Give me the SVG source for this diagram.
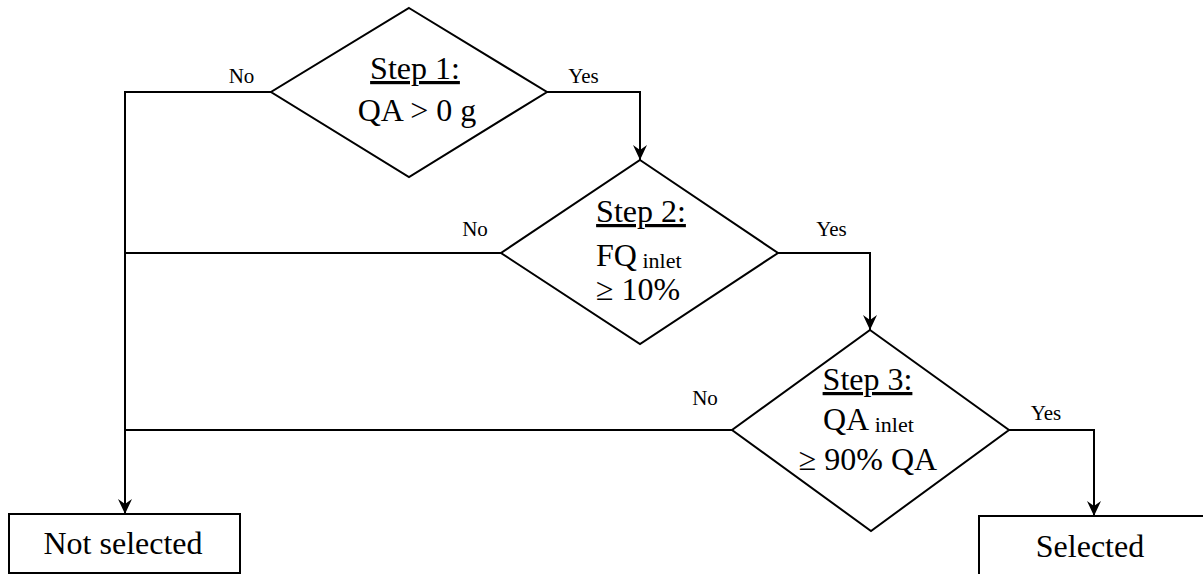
<svg xmlns="http://www.w3.org/2000/svg" width="1203" height="574" viewBox="0 0 1203 574">
<style>
.shape{fill:#fff;stroke:#000;stroke-width:2}
.conn{fill:none;stroke:#000;stroke-width:2}
text{font-family:"Liberation Serif","Times New Roman",serif;fill:#000}
.main{font-size:32px}
.lbl{font-size:21px}
.sub{font-size:22px}
.u{text-decoration:underline}
</style>
<defs>
<marker id="arr" viewBox="0 0 15 14" refX="15" refY="7" markerWidth="15" markerHeight="14" markerUnits="userSpaceOnUse" orient="auto">
<path d="M0,0 L15,7 L0,14 L5,7 Z" fill="#000"/>
</marker>
</defs>
<rect width="1203" height="574" fill="#fff"/>
<g id="connectors">
<path class="conn" d="M547,92 H640 V160" marker-end="url(#arr)"/>
<path class="conn" d="M271,92 H125 V514" marker-end="url(#arr)"/>
<path class="conn" d="M501,253 H125"/>
<path class="conn" d="M778,253 H870 V330" marker-end="url(#arr)"/>
<path class="conn" d="M732,430 H125"/>
<path class="conn" d="M1009,430 H1094 V516" marker-end="url(#arr)"/>
<text class="lbl" x="241.5" y="83" text-anchor="middle">No</text>
<text class="lbl" x="583.5" y="83" text-anchor="middle">Yes</text>
<text class="lbl" x="475" y="236" text-anchor="middle">No</text>
<text class="lbl" x="831.5" y="236" text-anchor="middle">Yes</text>
<text class="lbl" x="705" y="405" text-anchor="middle">No</text>
<text class="lbl" x="1046" y="420" text-anchor="middle">Yes</text>
</g>
<g id="step1">
<polygon class="shape" points="409,8 547,92 409,177 271,92"/>
<text class="main u" x="415" y="79" text-anchor="middle">Step 1:</text>
<text class="main" x="417" y="121" text-anchor="middle">QA &gt; 0 g</text>
</g>
<g id="step2">
<polygon class="shape" points="640,160 778,253 640,344 501,253"/>
<text class="main u" x="641" y="222" text-anchor="middle">Step 2:</text>
<text class="main" x="596" y="266">FQ<tspan class="sub" dy="2"> inlet</tspan></text>
<text class="main" x="638" y="300" text-anchor="middle">≥ 10%</text>
</g>
<g id="step3">
<polygon class="shape" points="870,330 1009,430 871,531 732,430"/>
<text class="main u" x="867.5" y="390" text-anchor="middle">Step 3:</text>
<text class="main" x="823" y="430">QA<tspan class="sub" dy="2"> inlet</tspan></text>
<text class="main" x="868" y="470" text-anchor="middle">≥ 90% QA</text>
</g>
<g id="not-selected">
<rect class="shape" x="9" y="514" width="231" height="59"/>
<text class="main" x="123" y="554" text-anchor="middle">Not selected</text>
</g>
<g id="selected">
<rect class="shape" x="979" y="516" width="260" height="80"/>
<text class="main" x="1090" y="557" text-anchor="middle">Selected</text>
</g>
</svg>
